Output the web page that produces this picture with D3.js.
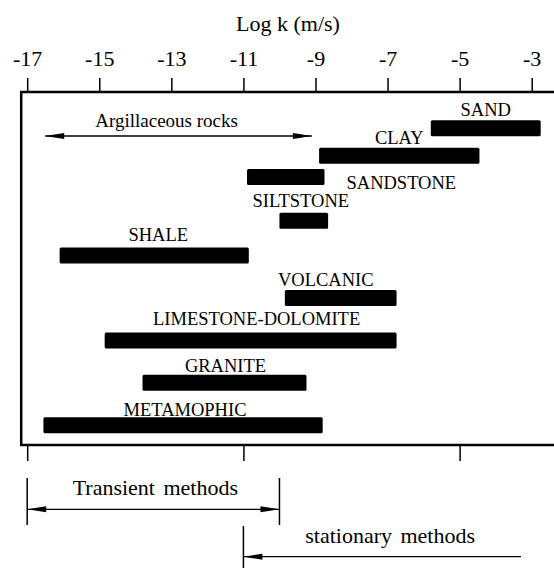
<!DOCTYPE html>
<html>
<head>
<meta charset="utf-8">
<script src="https://cdn.jsdelivr.net/npm/d3@7"></script>
<style>
    body { margin: 0; background: #fff; }
    svg { display: block; }
    svg text { font-family: "Liberation Serif", "Times New Roman", Times, "DejaVu Serif", serif; }
</style>
</head>
<body>
<svg id="chart" width="554" height="568"></svg>
<script>
// rock types and their permeability range (log k, m/s)
const rocks = ["SAND", "CLAY", "SANDSTONE", "SILTSTONE", "SHALE", "VOLCANIC", "LIMESTONE-DOLOMITE", "GRANITE", "METAMOPHIC"]
const logMin = [-5.8, -8.9, -10.9, -10.0, -16.1, -9.85, -14.85, -13.8, -16.55]
const logMax = [-2.75, -4.45, -8.75, -8.65, -10.85, -6.75, -6.75, -9.25, -8.8]
const lane = [1, 1.65, 2.15, 3.18, 4, 5, 6, 7, 8]

const topTicks = [-17, -15, -13, -11, -9, -7, -5, -3]
const bottomTicks = [-17, -11, -5]

// method / group ranges (log k)
const argillaceous = [-16.5, -9.1]
const transient = [-17, -10]
const stationary = [-11, -3.3]

const svg = d3.select("#chart")
const FONT = "\"Liberation Serif\", \"Times New Roman\", Times, \"DejaVu Serif\", serif"
const BOX_TOP = 92
const BOX_BOTTOM = 445
const BAR_H = 16

let xs = d3.scaleLinear().domain([-17, -3]).range([27.2, 531.7])
let ys = d3.scaleLinear().domain([0, 8]).range([77.7, 417.3])

// title
svg.append("text")
    .text("Log k (m/s)")
    .attr("x", 288)
    .attr("y", 31)
    .attr("font-family", FONT)
    .style("font-size", "22px")
    .style("text-anchor", "middle")

// frame
svg.append("rect")
    .attr("x", xs(-17) - 6)
    .attr("y", BOX_TOP)
    .attr("width", 600)
    .attr("height", BOX_BOTTOM - BOX_TOP)
    .style("fill", "none")
    .style("stroke", "#000")
    .style("stroke-width", 2.5)

// top axis
let gTop = svg.append("g")
    .attr("transform", `translate(0,${BOX_TOP})`)
    .call(d3.axisTop(xs).tickValues(topTicks).tickSize(14).tickPadding(12).tickFormat(d => d))
gTop.attr("font-family", FONT).attr("font-size", 22)
gTop.select(".domain").remove()
gTop.selectAll("line").style("stroke-width", 1.5)
gTop.selectAll("text").style("fill", "#000")

// bottom ticks
let gBot = svg.append("g")
    .attr("transform", `translate(0,${BOX_BOTTOM})`)
    .call(d3.axisBottom(xs).tickValues(bottomTicks).tickSize(16).tickFormat(""))
gBot.select(".domain").remove()
gBot.selectAll("line").style("stroke-width", 1.5)

// bars
const data = rocks.map((r, i) => ({ name: r, lo: logMin[i], hi: logMax[i], lane: lane[i] }))
svg.selectAll(".bar")
    .data(data)
    .enter()
    .append("rect")
    .attr("class", "bar")
    .attr("x", d => xs(d.lo))
    .attr("y", d => ys(d.lane))
    .attr("width", d => xs(d.hi) - xs(d.lo))
    .attr("height", BAR_H)
    .attr("rx", 1.5)
    .style("fill", "#000")

// labels: centred above bar, a few nudged like the original
const nudge = {
    "SHALE": [4, -3],
    "SILTSTONE": [-3, -2],
    "VOLCANIC": [-15, 0],
    "LIMESTONE-DOLOMITE": [6, -3],
    "GRANITE": [1, 1],
    "METAMOPHIC": [2, 3]
}
svg.selectAll(".lbl")
    .data(data)
    .enter()
    .append("text")
    .attr("class", "lbl")
    .text(d => d.name)
    .attr("x", d => {
        if (d.name === "SANDSTONE") return xs(d.hi) + 22
        let n = nudge[d.name] || [0, 0]
        return (xs(d.lo) + xs(d.hi)) / 2 + n[0]
    })
    .attr("y", d => {
        if (d.name === "SANDSTONE") return ys(d.lane) + BAR_H + 4
        let n = nudge[d.name] || [0, 0]
        return ys(d.lane) - 4 + n[1]
    })
    .style("text-anchor", d => d.name === "SANDSTONE" ? "start" : "middle")
    .attr("font-family", FONT)
    .style("font-size", "18.5px")

// arrow helper: heads is a list of "left"/"right"
function arrow(x1, x2, y, heads) {
    svg.append("line")
        .attr("x1", x1).attr("x2", x2)
        .attr("y1", y).attr("y2", y)
        .style("stroke", "#000")
        .style("stroke-width", 1.3)
    heads.forEach(h => {
        let tip = h === "left" ? x1 : x2
        let back = h === "left" ? tip + 19 : tip - 19
        svg.append("path")
            .attr("d", `M${tip},${y} L${back},${y - 3} L${back},${y + 3} Z`)
            .style("fill", "#000")
    })
}

function vline(x, y1, y2) {
    svg.append("line")
        .attr("x1", x).attr("x2", x)
        .attr("y1", y1).attr("y2", y2)
        .style("stroke", "#000")
        .style("stroke-width", 1.5)
}

// Argillaceous rocks
arrow(xs(argillaceous[0]), xs(argillaceous[1]), 136, ["left", "right"])
svg.append("text")
    .text("Argillaceous rocks")
    .attr("x", (xs(argillaceous[0]) + xs(argillaceous[1])) / 2 - 12)
    .attr("y", 127.3)
    .attr("font-family", FONT)
    .style("font-size", "19px")
    .style("text-anchor", "middle")

// Transient methods
vline(xs(transient[0]), 478, 525)
vline(xs(transient[1]), 478, 525)
arrow(xs(transient[0]), xs(transient[1]), 509.3, ["left", "right"])
svg.append("text")
    .text("Transient methods")
    .attr("x", (xs(transient[0]) + xs(transient[1])) / 2 + 2)
    .attr("y", 495)
    .attr("font-family", FONT)
    .style("font-size", "22px")
    .style("word-spacing", "3px")
    .style("text-anchor", "middle")

// stationary methods
vline(xs(stationary[0]), 526, 568)
arrow(xs(stationary[0]), xs(stationary[1]), 556.7, ["left"])
svg.append("text")
    .text("stationary methods")
    .attr("x", (xs(stationary[0]) + xs(stationary[1])) / 2 + 8)
    .attr("y", 543.3)
    .attr("font-family", FONT)
    .style("font-size", "22px")
    .style("word-spacing", "3px")
    .style("text-anchor", "middle")
</script>
</body>
</html>
